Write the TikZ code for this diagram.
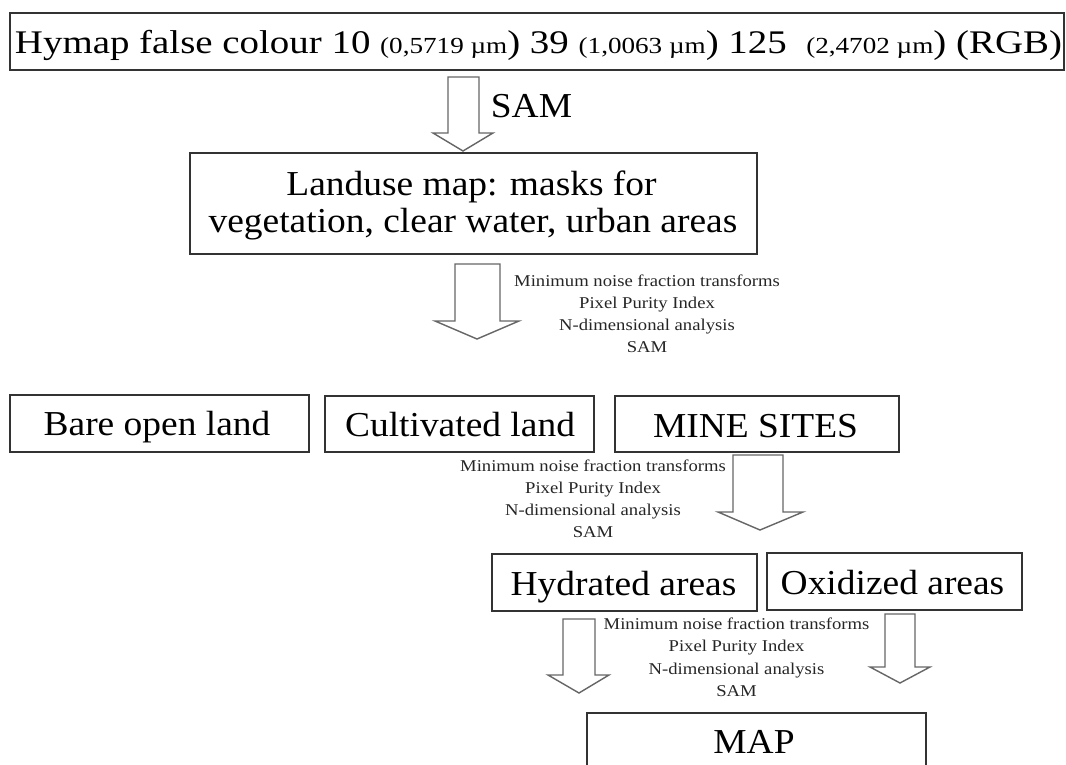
\documentclass[tikz,border=0pt]{standalone}
\usepackage{fontspec}
\setmainfont{Liberation Serif}
\usepackage{graphicx}
\newcommand\hx[1]{\scalebox{1.07}[1]{#1}}
\newcommand\hs[1]{\scalebox{1.13}[1]{#1}}
\newcommand\sm[1]{{\fontsize{23}{26}\selectfont #1}}
\newcommand\proclist[4]{%
  \node[smalltxt] (#1a) at (#2,#3) {\hs{Minimum noise fraction transforms}};
  \node[smalltxt] (#1b) at (#2,{#3+#4}) {\hs{Pixel Purity Index}};
  \node[smalltxt] (#1c) at (#2,{#3+2*#4}) {\hs{N-dimensional analysis}};
  \node[smalltxt] (#1d) at (#2,{#3+3*#4}) {\hs{SAM}};
}
\tikzset{
  boxnode/.style={draw=black!80, line width=1.2pt, inner sep=0pt, rectangle},
  bigtxt/.style={font=\fontsize{35}{40}\selectfont, inner sep=0pt, anchor=base},
  smalltxt/.style={font=\fontsize{16.5}{20}\selectfont, inner sep=0pt, anchor=base, text=black!85},
  barrow/.style={draw=black!60, line width=1.4pt, line join=miter, fill=white},
}
\begin{document}
\begin{tikzpicture}[x=1pt,y=-1pt]
\useasboundingbox[fill=white] (0,0) rectangle (1066,764);

% boxes
\node[boxnode, minimum width=1054pt, minimum height=57pt] (hymap) at (537,41.5) {};
\node[boxnode, minimum width=567pt, minimum height=101pt] (landuse) at (473.5,203.5) {};
\node[boxnode, minimum width=299pt, minimum height=57pt] (bare) at (159.5,423.5) {};
\node[boxnode, minimum width=269pt, minimum height=56pt] (cult) at (459.5,424) {};
\node[boxnode, minimum width=284pt, minimum height=56pt] (mine) at (757,424) {};
\node[boxnode, minimum width=265pt, minimum height=57pt] (hyd) at (624.5,582.5) {};
\node[boxnode, minimum width=255pt, minimum height=57pt] (oxi) at (894.5,581.5) {};
\coordinate (mapbl) at (587,765);
\coordinate (maptr) at (926,713);
\coordinate (mapbr) at (926,765);
\draw[draw=black!80, line width=1.2pt] (mapbl) |- (maptr) -- (mapbr);

% texts
\node[anchor=base, inner sep=0pt] (hymapt) at (538.5,53)
  {\resizebox{1047pt}{\height}{\fontsize{33}{36}\selectfont Hymap false colour 10 \sm{(0,5719 µm}) 39 \sm{(1,0063 µm}) 125 \ \sm{(2,4702 µm}) (RGB)}};
\node[bigtxt] (samt) at (531.5,117) {\hx{SAM}};
\node[bigtxt] (landt1) at (471.5,195) {\hx{Landuse map: masks for}};
\node[bigtxt] (landt2) at (473,232) {\hx{vegetation, clear water, urban areas}};
\node[bigtxt] (baret) at (157,435) {\hx{Bare open land}};
\node[bigtxt] (cultt) at (460,436) {\hx{Cultivated land}};
\node[bigtxt] (minet) at (755.5,437) {\hx{MINE SITES}};
\node[bigtxt] (hydt) at (623.5,595) {\hx{Hydrated areas}};
\node[bigtxt] (oxit) at (892.5,594) {\hx{Oxidized areas}};
\node[bigtxt] (map) at (754,753) {\hx{MAP}};

% process lists
\proclist{pa}{647}{286}{22}
\proclist{pb}{593}{471}{22}
\proclist{pc}{736.5}{629}{22.6}

% block arrows
\draw[barrow] (448,77) -- (479,77) -- (479,133) -- (493,133) -- (463,151) -- (433,133) -- (448,133) -- cycle;
\draw[barrow] (455,264) -- (500,264) -- (500,321) -- (519,321) -- (477,339) -- (435,321) -- (455,321) -- cycle;
\draw[barrow] (733,455) -- (783,455) -- (783,512) -- (803,512) -- (760,530) -- (718,512) -- (733,512) -- cycle;
\draw[barrow] (563,619) -- (595,619) -- (595,675) -- (609,675) -- (579,693) -- (548,675) -- (563,675) -- cycle;
\draw[barrow] (885,614) -- (915,614) -- (915,667) -- (930,667) -- (900,683) -- (870,667) -- (885,667) -- cycle;
\end{tikzpicture}
\end{document}
